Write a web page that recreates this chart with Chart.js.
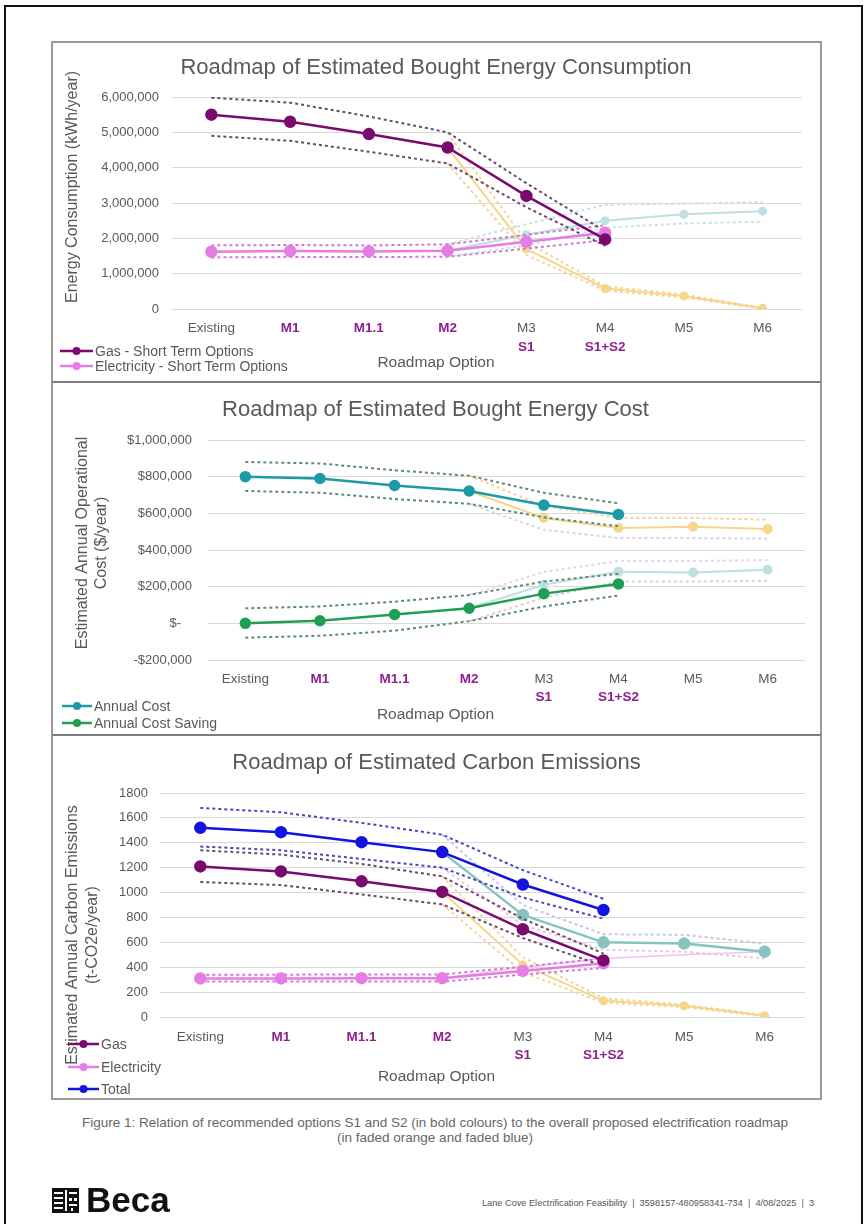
<!DOCTYPE html>
<html><head><meta charset="utf-8">
<script src="https://cdn.jsdelivr.net/npm/chart.js@4.4.0/dist/chart.umd.min.js"></script>
<style>
html,body{margin:0;padding:0;background:#fff;}
body{width:867px;height:1224px;position:relative;overflow:hidden;font-family:"Liberation Sans",Arial,sans-serif;color:#595959;}
.page{position:absolute;left:4px;top:5px;width:859px;height:1300px;border:2px solid #111;border-bottom:none;box-sizing:border-box;}
.box{position:absolute;left:51px;width:771px;border:2px solid #9a9a9a;box-sizing:border-box;background:#fff;}
canvas{position:absolute;}
.leg{position:absolute;font-size:14px;line-height:16px;white-space:nowrap;color:#595959;}
.leg svg{vertical-align:middle;margin-right:2px;}
.leg span{vertical-align:middle;}
.caption{position:absolute;left:0;width:870px;top:1115px;text-align:center;font-size:13.5px;line-height:15px;color:#666;}
.beca{position:absolute;left:86px;top:1181px;font-size:35px;line-height:38px;font-weight:bold;color:#111;font-family:"Liberation Sans",Arial,sans-serif;}
.footer{position:absolute;left:482px;top:1198px;font-size:9.2px;line-height:10px;color:#555;white-space:nowrap;}
</style></head>
<body>
<div class="page"></div>
<div class="box" style="top:41px;height:342px;"></div>
<div class="box" style="top:381px;height:355px;border-top-color:#7d7d7d;"></div>
<div class="box" style="top:734px;height:366px;border-top-color:#7d7d7d;"></div>
<canvas id="c1" width="766" height="337" style="left:54px;top:43px;"></canvas>
<canvas id="c2" width="766" height="348" style="left:54px;top:385px;"></canvas>
<canvas id="c3" width="766" height="359" style="left:54px;top:738px;"></canvas>
<div id="legends"></div>
<div class="caption">Figure 1: Relation of recommended options S1 and S2 (in bold colours) to the overall proposed electrification roadmap<br>(in faded orange and faded blue)</div>
<svg style="position:absolute;left:52px;top:1188px;" width="27" height="25" viewBox="0 0 27 25">
  <rect x="0" y="0" width="27" height="25" fill="#111"/>
  <rect x="2" y="4" width="9" height="2" fill="#fff"/><rect x="2" y="9" width="9" height="2" fill="#fff"/>
  <rect x="2" y="14" width="9" height="2" fill="#fff"/><rect x="2" y="19" width="9" height="2" fill="#fff"/>
  <rect x="13" y="2" width="2" height="21" fill="#fff"/>
  <rect x="17" y="4" width="8" height="2" fill="#fff"/><rect x="17" y="10" width="3" height="3" fill="#fff"/>
  <rect x="22" y="10" width="3" height="3" fill="#fff"/><rect x="17" y="16" width="8" height="2" fill="#fff"/>
  <rect x="19" y="20" width="2" height="3" fill="#fff"/>
</svg>
<div class="beca">Beca</div>
<div class="footer">Lane Cove Electrification Feasibility &nbsp;|&nbsp; 3598157-480958341-734 &nbsp;|&nbsp; 4/08/2025 &nbsp;|&nbsp; 3</div>
<script>
// ---------- shared categories ----------
const categories = ['Existing', 'M1', 'M1.1', 'M2', 'M3', 'M4', 'M5', 'M6'];
const subLabels = ['', '', '', '', 'S1', 'S1+S2', '', ''];
const highlightedCats = ['M1', 'M1.1', 'M2'];

// ---------- chart 1: energy consumption (kWh/year) ----------
const gasShort      = [5500000, 5300000, 4950000, 4570000, 3200000, 1970000, null, null];
const gasShortHigh  = [5980000, 5840000, 5450000, 5000000, 3560000, 2200000, null, null];
const gasShortLow   = [4900000, 4760000, 4450000, 4120000, 2880000, 1790000, null, null];
const elecShort     = [1620000, 1640000, 1630000, 1650000, 1900000, 2160000, null, null];
const elecShortHigh = [1800000, 1810000, 1800000, 1830000, 2100000, 2370000, null, null];
const elecShortLow  = [1460000, 1470000, 1470000, 1480000, 1710000, 1950000, null, null];
const gasRoadmap1     = [null, null, null, 4570000, 1700000, 580000, 370000, 20000];
const gasRoadmap1High = [null, null, null, 4980000, 1900000, 640000, 410000, 30000];
const gasRoadmap1Low  = [null, null, null, 4120000, 1530000, 520000, 330000, 10000];
const elecRoadmap1     = [null, null, null, 1650000, 2100000, 2500000, 2680000, 2770000];
const elecRoadmap1High = [null, null, null, 1830000, 2400000, 2950000, 2980000, 3030000];
const elecRoadmap1Low  = [null, null, null, 1480000, 1800000, 2300000, 2420000, 2470000];
const legend1 = ['Gas - Short Term Options', 'Electricity - Short Term Options'];

// ---------- chart 2: cost ($/year) ----------
const annualCost       = [800000, 790000, 752000, 722000, 645000, 594000, null, null];
const annualCostHigh   = [880000, 872000, 835000, 805000, 712000, 655000, null, null];
const annualCostLow    = [722000, 712000, 678000, 652000, 578000, 530000, null, null];
const costSaving       = [0, 14000, 48000, 82000, 162000, 215000, null, null];
const costSavingHigh   = [82000, 92000, 118000, 155000, 228000, 270000, null, null];
const costSavingLow    = [-78000, -68000, -40000, 12000, 92000, 152000, null, null];
const costRoadmap      = [null, null, null, 722000, 575000, 520000, 527000, 515000];
const costRoadmapHigh  = [null, null, null, 805000, 640000, 575000, 575000, 565000];
const costRoadmapLow   = [null, null, null, 652000, 510000, 465000, 465000, 462000];
const savingRoadmap     = [null, null, null, 82000, 210000, 282000, 277000, 292000];
const savingRoadmapHigh = [null, null, null, 155000, 280000, 340000, 340000, 345000];
const savingRoadmapLow  = [null, null, null, 12000, 140000, 228000, 228000, 232000];
const legend2 = ['Annual Cost', 'Annual Cost Saving'];

// ---------- chart 3: carbon (t-CO2e/year) ----------
const totalCO2      = [1520, 1485, 1405, 1325, 1065, 860, null, null];
const totalCO2High  = [1680, 1645, 1560, 1465, 1180, 950, null, null];
const totalCO2Low   = [1370, 1340, 1270, 1200, 960, 790, null, null];
const gasCO2        = [1210, 1170, 1090, 1005, 705, 455, null, null];
const gasCO2High    = [1340, 1305, 1230, 1130, 790, 510, null, null];
const gasCO2Low     = [1085, 1060, 985, 905, 635, 410, null, null];
const elecCO2       = [310, 310, 312, 312, 370, 432, null, null];
const elecCO2High   = [340, 340, 342, 342, 405, 470, null, null];
const elecCO2Low    = [285, 285, 285, 285, 340, 395, null, null];
const gasRoadmap3      = [null, null, null, 1005, 420, 130, 90, 10];
const gasRoadmap3High  = [null, null, null, 1130, 480, 150, 100, 15];
const gasRoadmap3Low   = [null, null, null, 905, 360, 115, 80, 5];
const totalRoadmap3     = [null, null, null, 1325, 820, 600, 590, 525];
const totalRoadmap3High = [null, null, null, 1465, 900, 665, 660, 590];
const totalRoadmap3Low  = [null, null, null, 1200, 740, 540, 525, 470];
const elecRoadmap3      = [null, null, null, 312, 400, 470, 500, 525];
const legend3 = ['Gas', 'Electricity', 'Total'];

// ---------- styles ----------
const GRAY = '#595959', PURPLE_T = '#8e1f8e';
const C_GAS = '#7a0b6e', C_GAS_D = '#6d4a6d';
const C_ELEC = '#e47de4', C_ELEC_D = '#d27ad2';
const C_TEAL = '#1c9aa6', C_GREEN = '#1f9e55', C_COST_D = '#5d8a7c';
const C_BLUE = '#1414e0', C_BLUE_D = '#4848b8';
const C_ORANGE = '#f5d78a', C_ORANGE_D = '#f3d49c';
const C_FBLUE = '#bde0e0', C_FBLUE_D = '#c6e3e3';
const C_FTEAL3 = '#86c4be';

function solid(data, color, r, order, w) {
  return {data, borderColor: color, backgroundColor: color, pointBackgroundColor: color, pointBorderColor: color,
    borderWidth: w || 2.5, pointRadius: r, pointHoverRadius: r, order: order, spanGaps: false, fill: false};
}
function band(data, color, order, w) {
  return {data, borderColor: color, backgroundColor: color, borderWidth: w || 2, borderDash: [3, 3],
    pointRadius: 0, pointHoverRadius: 0, order: order, spanGaps: false, fill: false};
}

const subLabelPlugin = {
  id: 'subLabels',
  afterDraw(chart, args, opts) {
    const ctx = chart.ctx, xs = chart.scales.x;
    ctx.save();
    ctx.font = 'bold 13.5px "Liberation Sans", Arial, sans-serif';
    ctx.fillStyle = PURPLE_T; ctx.textAlign = 'center'; ctx.textBaseline = 'middle';
    subLabels.forEach((t, i) => { if (t) ctx.fillText(t, xs.getPixelForValue(i), chart.chartArea.bottom + opts.offset); });
    ctx.restore();
  }
};
const yTitlePlugin = {
  id: 'yTitle',
  afterDraw(chart, args, opts) {
    const ctx = chart.ctx;
    ctx.save();
    ctx.font = '16px "Liberation Sans", Arial, sans-serif';
    ctx.fillStyle = GRAY; ctx.textAlign = 'center'; ctx.textBaseline = 'middle';
    opts.lines.forEach((t, k) => {
      ctx.save(); ctx.translate(opts.x[k], opts.cy); ctx.rotate(-Math.PI / 2); ctx.fillText(t, 0, 0); ctx.restore();
    });
    ctx.restore();
  }
};

function makeChart(id, cfg) {
  return new Chart(document.getElementById(id), {
    type: 'line',
    data: {labels: categories, datasets: cfg.datasets},
    plugins: [subLabelPlugin, yTitlePlugin],
    options: {
      responsive: false, animation: false, devicePixelRatio: 1,
      layout: {padding: {left: cfg.pl, right: cfg.pr, top: 0, bottom: cfg.pb}},
      plugins: {
        legend: {display: false}, tooltip: {enabled: false},
        title: {display: true, text: cfg.title, color: GRAY,
          font: {size: 22, family: '"Liberation Sans", Arial, sans-serif', weight: 'normal', lineHeight: 1.2},
          padding: {top: 11.8, bottom: cfg.titleBottom}},
        subtitle: {display: true, position: 'bottom', text: 'Roadmap Option', color: GRAY,
          font: {size: 15.5, family: '"Liberation Sans", Arial, sans-serif', weight: 'normal', lineHeight: 1.2},
          padding: {top: 0, bottom: 0}},
        subLabels: {offset: cfg.subOffset},
        yTitle: cfg.yTitle
      },
      scales: {
        x: {
          offset: true,
          grid: {display: false, drawTicks: false},
          border: {display: false},
          ticks: {padding: cfg.xPad, autoSkip: false, maxRotation: 0,
            color: c => highlightedCats.includes(categories[c.index]) ? PURPLE_T : GRAY,
            font: c => ({size: 13.5, family: '"Liberation Sans", Arial, sans-serif',
              weight: highlightedCats.includes(categories[c.index]) ? 'bold' : 'normal'})},
          afterFit: s => { s.height = cfg.xh; }
        },
        y: {
          min: cfg.min, max: cfg.max,
          grid: {color: '#d9d9d9', lineWidth: 1, drawTicks: false},
          border: {display: false},
          ticks: {stepSize: cfg.step, padding: cfg.yPad, color: GRAY,
            font: {size: 13, family: '"Liberation Sans", Arial, sans-serif'}, callback: cfg.fmt},
          afterFit: s => { s.width = cfg.yw; }
        }
      }
    }
  });
}

makeChart('c1', {
  title: 'Roadmap of Estimated Bought Energy Consumption',
  pl: 16, pr: 18, pb: 7.7, titleBottom: 15.8, xh: 44.7, yw: 102, xPad: 11, yPad: 13, subOffset: 38,
  min: 0, max: 6000000, step: 1000000,
  fmt: v => v === 0 ? '0' : v.toLocaleString('en-US'),
  yTitle: {lines: ['Energy Consumption (kWh/year)'], x: [19], cy: 144},
  datasets: [
    solid(gasShort, C_GAS, 5, 0), solid(elecShort, C_ELEC, 5, 0),
    band(gasShortHigh, C_GAS_D, 1), band(gasShortLow, C_GAS_D, 1),
    band(elecShortHigh, C_ELEC_D, 1), band(elecShortLow, C_ELEC_D, 1),
    solid(gasRoadmap1, C_ORANGE, 3.5, 2, 2), solid(elecRoadmap1, C_FBLUE, 3.5, 2, 2),
    band(gasRoadmap1High, C_ORANGE_D, 3), band(gasRoadmap1Low, C_ORANGE_D, 3),
    band(elecRoadmap1High, C_FBLUE_D, 3), band(elecRoadmap1Low, C_FBLUE_D, 3)
  ]
});

makeChart('c2', {
  title: 'Roadmap of Estimated Bought Energy Cost',
  pl: 12, pr: 15, pb: 8.7, titleBottom: 16.8, xh: 45.7, yw: 142, xPad: 11, yPad: 16, subOffset: 37,
  min: -200000, max: 1000000, step: 200000,
  fmt: v => v === 0 ? '$-   ' : (v < 0 ? '-$' + Math.abs(v).toLocaleString('en-US') : '$' + v.toLocaleString('en-US')),
  yTitle: {lines: ['Estimated Annual Operational', 'Cost ($/year)'], x: [29, 48], cy: 158},
  datasets: [
    solid(annualCost, C_TEAL, 4.5, 0), solid(costSaving, C_GREEN, 4.5, 0),
    band(annualCostHigh, C_COST_D, 1), band(annualCostLow, C_COST_D, 1),
    band(costSavingHigh, C_COST_D, 1), band(costSavingLow, C_COST_D, 1),
    solid(costRoadmap, C_ORANGE, 4, 2, 2), solid(savingRoadmap, C_FBLUE, 4, 2, 2),
    band(costRoadmapHigh, C_ORANGE_D, 3), band(costRoadmapLow, '#ddd0ec', 3),
    band(savingRoadmapHigh, '#e4d4ea', 3), band(savingRoadmapLow, '#ecc8d8', 3)
  ]
});

makeChart('c3', {
  title: 'Roadmap of Estimated Carbon Emissions',
  pl: 14, pr: 15, pb: 10.7, titleBottom: 16.8, xh: 50.7, yw: 92, xPad: 12, yPad: 12, subOffset: 38,
  min: 0, max: 1800, step: 200,
  fmt: v => String(v),
  yTitle: {lines: ['Estimated Annual Carbon Emissions', '(t-CO2e/year)'], x: [19, 39], cy: 197},
  datasets: [
    solid(totalCO2, C_BLUE, 5, 0), solid(gasCO2, C_GAS, 5, 0), solid(elecCO2, C_ELEC, 5, 0),
    band(totalCO2High, C_BLUE_D, 1), band(totalCO2Low, C_BLUE_D, 1),
    band(gasCO2High, C_GAS_D, 1), band(gasCO2Low, C_GAS_D, 1),
    band(elecCO2High, C_ELEC_D, 1), band(elecCO2Low, C_ELEC_D, 1),
    solid(totalRoadmap3, C_FTEAL3, 5, 2, 2.5), solid(gasRoadmap3, C_ORANGE, 3.5, 2, 2),
    solid(elecRoadmap3, '#efc3ef', 0, 3, 1.5),
    band(totalRoadmap3High, '#c9c4e8', 3), band(totalRoadmap3Low, '#e8c8e0', 3),
    band(gasRoadmap3High, C_ORANGE_D, 3), band(gasRoadmap3Low, C_ORANGE_D, 3)
  ]
});

// ---------- HTML legends ----------
function addLegend(names, colors, left, lineW, ys) {
  const host = document.getElementById('legends');
  names.forEach((n, i) => {
    const d = document.createElement('div');
    d.className = 'leg';
    d.style.left = left + 'px';
    d.style.top = (ys[i] - 8) + 'px';
    d.innerHTML = '<svg width="' + lineW + '" height="12"><line x1="0" y1="6" x2="' + lineW + '" y2="6" stroke="' + colors[i] +
      '" stroke-width="2.5"/><circle cx="' + (lineW / 2) + '" cy="6" r="4" fill="' + colors[i] + '"/></svg><span>' + n + '</span>';
    host.appendChild(d);
  });
}
addLegend(legend1, [C_GAS, C_ELEC], 60, 33, [350, 365]);
addLegend(legend2, [C_TEAL, C_GREEN], 62, 30, [705, 722]);
addLegend(legend3, [C_GAS, C_ELEC, C_BLUE], 68, 31, [1043, 1066, 1088]);
</script>
</body></html>
